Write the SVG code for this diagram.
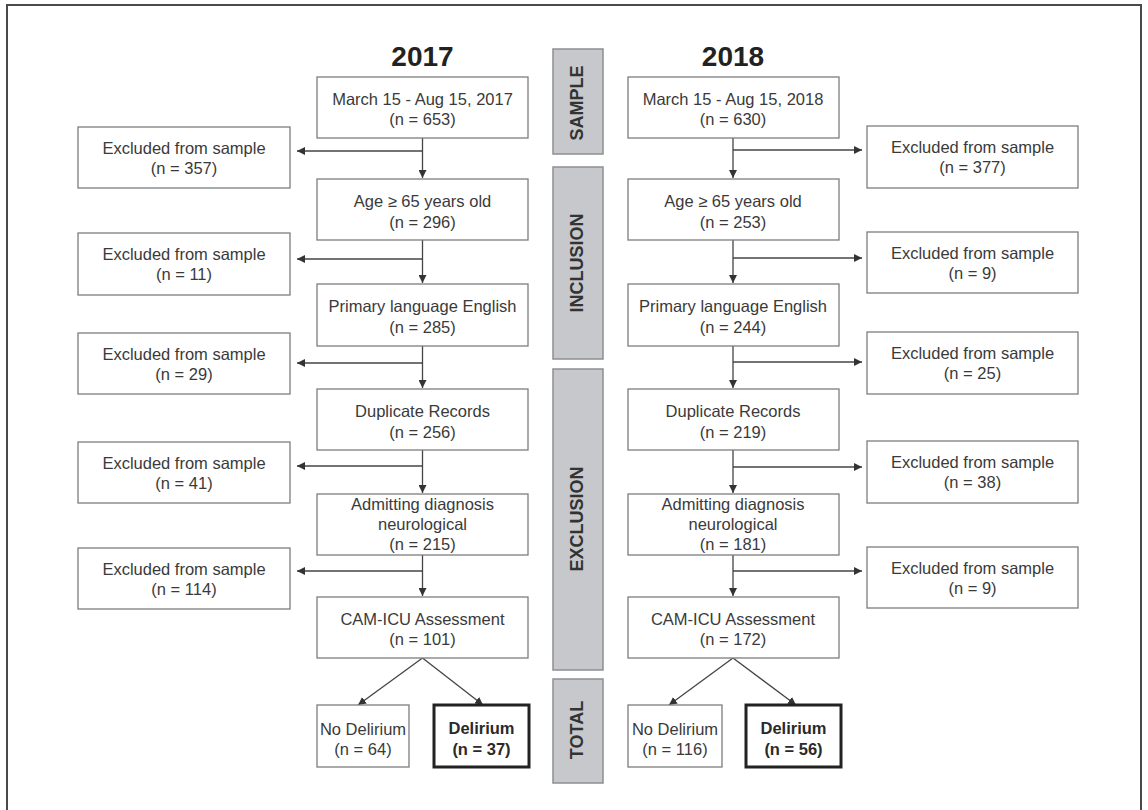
<svg xmlns="http://www.w3.org/2000/svg" width="1148" height="810" viewBox="0 0 1148 810">
<defs>
<style>
.bg{fill:#ffffff}
.frame{fill:none;stroke:#4a4a4a;stroke-width:2}
.box{fill:#ffffff;stroke:#7d7d7d;stroke-width:1.3}
.bold{fill:#ffffff;stroke:#222222;stroke-width:3}
.bar{fill:#c6c8cc;stroke:#8e8f92;stroke-width:1.5}
.t{font-family:"Liberation Sans",Arial,sans-serif;font-size:16.5px;fill:#3a3a3a;text-anchor:middle}
.tb{font-family:"Liberation Sans",Arial,sans-serif;font-size:16.5px;font-weight:bold;fill:#2a2a2a;text-anchor:middle}
.yr{font-family:"Liberation Sans",Arial,sans-serif;font-size:28px;font-weight:bold;fill:#222222;text-anchor:middle}
.lab{font-family:"Liberation Sans",Arial,sans-serif;font-size:18px;font-weight:bold;fill:#333333;text-anchor:middle}
.c{fill:none;stroke:#444444;stroke-width:1.3}
</style>
<marker id="ah" viewBox="0 0 8 8" markerWidth="8" markerHeight="8" refX="8" refY="4" orient="auto" markerUnits="userSpaceOnUse">
<path d="M0,0 L8,4 L0,8 z" fill="#333333"/>
</marker>
</defs>
<rect class="bg" x="0" y="0" width="1148" height="810"/>
<rect class="frame" x="7" y="5" width="1134" height="830"/>

<text class="yr" x="422.5" y="66">2017</text>
<text class="yr" x="733" y="66">2018</text>

<g id="bar_sample"><rect class="bar" x="553" y="49" width="50" height="105"/><text class="lab" transform="translate(583,103) rotate(-90)">SAMPLE</text></g>
<g id="bar_inclusion"><rect class="bar" x="553" y="167" width="50" height="192"/><text class="lab" transform="translate(583,263) rotate(-90)">INCLUSION</text></g>
<g id="bar_exclusion"><rect class="bar" x="553" y="369" width="50" height="301"/><text class="lab" transform="translate(583,519) rotate(-90)">EXCLUSION</text></g>
<g id="bar_total"><rect class="bar" x="553" y="679" width="50" height="104"/><text class="lab" transform="translate(583,730) rotate(-90)">TOTAL</text></g>

<g id="connectors">
<line class="c" x1="422.5" y1="138" x2="422.5" y2="178" marker-end="url(#ah)"/>
<line class="c" x1="422.5" y1="240" x2="422.5" y2="283" marker-end="url(#ah)"/>
<line class="c" x1="422.5" y1="346" x2="422.5" y2="388" marker-end="url(#ah)"/>
<line class="c" x1="422.5" y1="450" x2="422.5" y2="493" marker-end="url(#ah)"/>
<line class="c" x1="422.5" y1="555" x2="422.5" y2="596" marker-end="url(#ah)"/>
<line class="c" x1="422.5" y1="151" x2="297" y2="151" marker-end="url(#ah)"/>
<line class="c" x1="422.5" y1="259" x2="297" y2="259" marker-end="url(#ah)"/>
<line class="c" x1="422.5" y1="363" x2="297" y2="363" marker-end="url(#ah)"/>
<line class="c" x1="422.5" y1="466" x2="297" y2="466" marker-end="url(#ah)"/>
<line class="c" x1="422.5" y1="571" x2="297" y2="571" marker-end="url(#ah)"/>
<line class="c" x1="422.5" y1="658" x2="358" y2="705" marker-end="url(#ah)"/>
<line class="c" x1="422.5" y1="658" x2="483" y2="705" marker-end="url(#ah)"/>

<line class="c" x1="733" y1="138" x2="733" y2="178" marker-end="url(#ah)"/>
<line class="c" x1="733" y1="240" x2="733" y2="283" marker-end="url(#ah)"/>
<line class="c" x1="733" y1="346" x2="733" y2="388" marker-end="url(#ah)"/>
<line class="c" x1="733" y1="450" x2="733" y2="493" marker-end="url(#ah)"/>
<line class="c" x1="733" y1="555" x2="733" y2="596" marker-end="url(#ah)"/>
<line class="c" x1="733" y1="150" x2="862" y2="150" marker-end="url(#ah)"/>
<line class="c" x1="733" y1="258" x2="862" y2="258" marker-end="url(#ah)"/>
<line class="c" x1="733" y1="362" x2="862" y2="362" marker-end="url(#ah)"/>
<line class="c" x1="733" y1="467" x2="862" y2="467" marker-end="url(#ah)"/>
<line class="c" x1="733" y1="571" x2="862" y2="571" marker-end="url(#ah)"/>
<line class="c" x1="733" y1="658" x2="669" y2="705" marker-end="url(#ah)"/>
<line class="c" x1="733" y1="658" x2="796" y2="705" marker-end="url(#ah)"/>
</g>

<g id="a_sample"><rect class="box" x="317" y="77" width="211" height="61"/><text class="t" x="422.5" y="105">March 15 - Aug 15, 2017</text><text class="t" x="422.5" y="125">(n = 653)</text></g>
<g id="a_age"><rect class="box" x="317" y="179" width="211" height="61"/><text class="t" x="422.5" y="207">Age ≥ 65 years old</text><text class="t" x="422.5" y="228">(n = 296)</text></g>
<g id="a_lang"><rect class="box" x="317" y="284" width="211" height="62"/><text class="t" x="422.5" y="312">Primary language English</text><text class="t" x="422.5" y="333">(n = 285)</text></g>
<g id="a_dup"><rect class="box" x="317" y="389" width="211" height="61"/><text class="t" x="422.5" y="417">Duplicate Records</text><text class="t" x="422.5" y="438">(n = 256)</text></g>
<g id="a_neuro"><rect class="box" x="317" y="494" width="211" height="61"/><text class="t" x="422.5" y="510">Admitting diagnosis</text><text class="t" x="422.5" y="530">neurological</text><text class="t" x="422.5" y="550">(n = 215)</text></g>
<g id="a_cam"><rect class="box" x="317" y="597" width="211" height="61"/><text class="t" x="422.5" y="625">CAM-ICU Assessment</text><text class="t" x="422.5" y="645">(n = 101)</text></g>
<g id="a_nodel"><rect class="box" x="317" y="705" width="92" height="62"/><text class="t" x="363" y="735">No Delirium</text><text class="t" x="363" y="755">(n = 64)</text></g>
<g id="a_del"><rect class="bold" x="434" y="705" width="95" height="62"/><text class="tb" x="481.5" y="734">Delirium</text><text class="tb" x="481.5" y="755">(n = 37)</text></g>

<g id="a_ex1"><rect class="box" x="78" y="127" width="212" height="61"/><text class="t" x="184" y="154">Excluded from sample</text><text class="t" x="184" y="174">(n = 357)</text></g>
<g id="a_ex2"><rect class="box" x="78" y="233" width="212" height="62"/><text class="t" x="184" y="260">Excluded from sample</text><text class="t" x="184" y="280">(n = 11)</text></g>
<g id="a_ex3"><rect class="box" x="78" y="333" width="212" height="61"/><text class="t" x="184" y="360">Excluded from sample</text><text class="t" x="184" y="380">(n = 29)</text></g>
<g id="a_ex4"><rect class="box" x="78" y="442" width="212" height="61"/><text class="t" x="184" y="469">Excluded from sample</text><text class="t" x="184" y="489">(n = 41)</text></g>
<g id="a_ex5"><rect class="box" x="78" y="548" width="212" height="61"/><text class="t" x="184" y="575">Excluded from sample</text><text class="t" x="184" y="595">(n = 114)</text></g>

<g id="b_sample"><rect class="box" x="628" y="77" width="211" height="61"/><text class="t" x="733" y="105">March 15 - Aug 15, 2018</text><text class="t" x="733" y="125">(n = 630)</text></g>
<g id="b_age"><rect class="box" x="628" y="179" width="211" height="61"/><text class="t" x="733" y="207">Age ≥ 65 years old</text><text class="t" x="733" y="228">(n = 253)</text></g>
<g id="b_lang"><rect class="box" x="628" y="284" width="211" height="62"/><text class="t" x="733" y="312">Primary language English</text><text class="t" x="733" y="333">(n = 244)</text></g>
<g id="b_dup"><rect class="box" x="628" y="389" width="211" height="61"/><text class="t" x="733" y="417">Duplicate Records</text><text class="t" x="733" y="438">(n = 219)</text></g>
<g id="b_neuro"><rect class="box" x="628" y="494" width="211" height="61"/><text class="t" x="733" y="510">Admitting diagnosis</text><text class="t" x="733" y="530">neurological</text><text class="t" x="733" y="550">(n = 181)</text></g>
<g id="b_cam"><rect class="box" x="628" y="597" width="211" height="61"/><text class="t" x="733" y="625">CAM-ICU Assessment</text><text class="t" x="733" y="645">(n = 172)</text></g>
<g id="b_nodel"><rect class="box" x="628" y="705" width="94" height="62"/><text class="t" x="675" y="735">No Delirium</text><text class="t" x="675" y="755">(n = 116)</text></g>
<g id="b_del"><rect class="bold" x="746" y="705" width="95" height="62"/><text class="tb" x="793.5" y="734">Delirium</text><text class="tb" x="793.5" y="755">(n = 56)</text></g>

<g id="b_ex1"><rect class="box" x="867" y="126" width="211" height="62"/><text class="t" x="972.5" y="153">Excluded from sample</text><text class="t" x="972.5" y="173">(n = 377)</text></g>
<g id="b_ex2"><rect class="box" x="867" y="232" width="211" height="61"/><text class="t" x="972.5" y="259">Excluded from sample</text><text class="t" x="972.5" y="279">(n = 9)</text></g>
<g id="b_ex3"><rect class="box" x="867" y="332" width="211" height="62"/><text class="t" x="972.5" y="359">Excluded from sample</text><text class="t" x="972.5" y="379">(n = 25)</text></g>
<g id="b_ex4"><rect class="box" x="867" y="441" width="211" height="62"/><text class="t" x="972.5" y="468">Excluded from sample</text><text class="t" x="972.5" y="488">(n = 38)</text></g>
<g id="b_ex5"><rect class="box" x="867" y="547" width="211" height="61"/><text class="t" x="972.5" y="574">Excluded from sample</text><text class="t" x="972.5" y="594">(n = 9)</text></g>
</svg>
